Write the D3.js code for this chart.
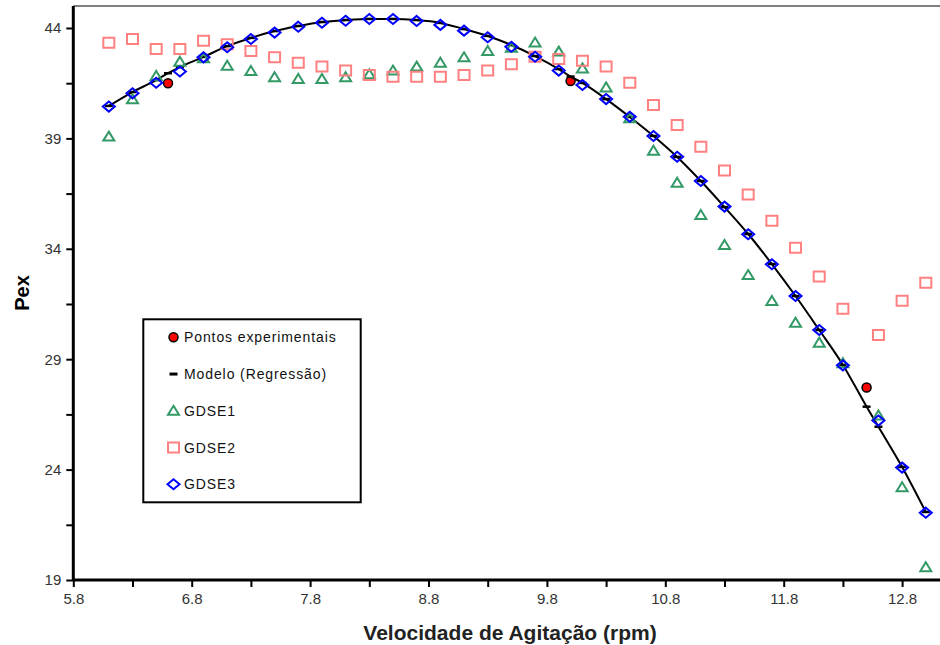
<!DOCTYPE html>
<html>
<head>
<meta charset="utf-8">
<script src="https://cdn.jsdelivr.net/npm/d3@7"></script>
<style>
  html, body { margin: 0; padding: 0; background: #fff; }
  svg { display: block; font-family: "Liberation Sans", Arial, sans-serif; }
</style>
</head>
<body>
<svg id="chart" width="940" height="645"></svg>
<script>
// Agitation speed (rpm) at which the three GDSE estimates were computed
const speeds = [6.1, 6.3, 6.5, 6.7, 6.9, 7.1, 7.3, 7.5, 7.7, 7.9, 8.1, 8.3, 8.5, 8.7, 8.9,
  9.1, 9.3, 9.5, 9.7, 9.9, 10.1, 10.3, 10.5, 10.7, 10.9, 11.1, 11.3, 11.5, 11.7, 11.9,
  12.1, 12.3, 12.6, 12.8, 13.0];

const gdse1 = [39.08, 40.77, 41.83, 42.47, 42.63, 42.29, 42.05, 41.77, 41.69, 41.69, 41.77,
  41.90, 42.07, 42.25, 42.43, 42.67, 42.96, 43.10, 43.34, 42.93, 42.17, 41.31, 39.91, 38.44,
  36.99, 35.53, 34.17, 32.81, 31.64, 30.65, 29.75, 28.82, 26.45, 23.20, 19.58];

const gdse2 = [43.33, 43.50, 43.05, 43.05, 43.42, 43.26, 42.96, 42.67, 42.43, 42.25, 42.07,
  41.87, 41.79, 41.79, 41.79, 41.87, 42.07, 42.36, 42.70, 42.60, 42.52, 42.25, 41.52, 40.51,
  39.61, 38.62, 37.54, 36.46, 35.27, 34.05, 32.74, 31.28, 30.10, 31.65, 32.46];

const gdse3 = [40.44, 41.04, 41.52, 42.03, 42.67, 43.13, 43.50, 43.79, 44.06, 44.24, 44.33,
  44.41, 44.41, 44.32, 44.14, 43.88, 43.58, 43.15, 42.70, 42.07, 41.42, 40.78, 39.98, 39.11,
  38.17, 37.07, 35.91, 34.66, 33.30, 31.86, 30.32, 28.72, 26.22, 24.09, 22.05];

// Regression model
const modelX = [6.1, 6.3, 6.5, 6.6, 6.7, 6.9, 7.1, 7.3, 7.5, 7.7, 7.9, 8.1, 8.3, 8.5, 8.7, 8.9,
  9.1, 9.3, 9.5, 9.7, 9.9, 10.0, 10.1, 10.3, 10.5, 10.7, 10.9, 11.1, 11.3, 11.5, 11.7, 11.9,
  12.1, 12.3, 12.5, 12.6, 12.8, 13.0];
const modelY = [40.47, 41.10, 41.64, 41.95, 42.23, 42.69, 43.18, 43.55, 43.86, 44.09, 44.27,
  44.36, 44.41, 44.41, 44.36, 44.23, 43.95, 43.64, 43.23, 42.73, 42.14, 41.80, 41.51, 40.78,
  39.97, 39.11, 38.16, 37.07, 35.89, 34.67, 33.31, 31.86, 30.32, 28.74, 26.85, 25.94, 24.12,
  22.08];

// Experimental points
const expX = [6.6, 10.0, 12.5];
const expY = [41.50, 41.60, 27.72];

const xTicks = [5.8, 6.8, 7.8, 8.8, 9.8, 10.8, 11.8, 12.8];
const yTicks = [19, 24, 29, 34, 39, 44];

const legendLabels = ["Pontos experimentais", "Modelo (Regressão)", "GDSE1", "GDSE2", "GDSE3"];

const colors = { exp: "#ff0000", model: "#000000", g1: "#339966", g2: "#ff8080", g3: "#0000ff" };

const svg = d3.select("#chart");

const x = d3.scaleLinear().domain([5.8, 13.12]).range([73.3, 940]);
const y = d3.scaleLinear().domain([19, 45]).range([580, 5.9]);

// plot top border
svg.append("line")
  .attr("x1", x(5.8)).attr("x2", 940)
  .attr("y1", y(45)).attr("y2", y(45))
  .attr("stroke", "#808080").attr("stroke-width", 2);

// axes
const yAxis = d3.axisLeft(y)
  .tickValues(d3.range(19, 45, 2.5))
  .tickSize(7)
  .tickFormat(d => yTicks.includes(d) ? d3.format("d")(d) : "");
const gy = svg.append("g").attr("transform", `translate(${x(5.8)},0)`).call(yAxis);

const xAxis = d3.axisBottom(x)
  .tickValues(d3.range(5.8, 13.05, 0.5).map(v => +v.toFixed(1)))
  .tickSize(7)
  .tickFormat(d => xTicks.some(t => Math.abs(t - d) < 1e-6) ? d3.format(".1f")(d) : "");
const gx = svg.append("g").attr("transform", `translate(0,${y(19)})`).call(xAxis);

[gx, gy].forEach(g => {
  g.select(".domain").attr("stroke", "#000").attr("stroke-width", 3);
  g.selectAll(".tick line").attr("stroke", "#000").attr("stroke-width", 2);
  g.selectAll(".tick text").attr("fill", "#333").attr("font-size", 15)
    .attr("font-family", "'Liberation Sans', Arial, sans-serif");
});
gy.select(".domain").attr("d", `M0,${y(19)}V${y(45)}`);
gx.select(".domain").attr("d", `M${x(5.8)},0H940`);
gy.selectAll(".tick text").attr("x", -12);
gx.selectAll(".tick text").attr("y", 13);

// axis titles
svg.append("text")
  .attr("x", 510).attr("y", 640)
  .attr("text-anchor", "middle")
  .attr("font-weight", "bold").attr("font-size", 21).attr("fill", "#222")
  .text("Velocidade de Agitação (rpm)");

svg.append("text")
  .attr("transform", `translate(29,${y(32)}) rotate(-90)`)
  .attr("text-anchor", "middle")
  .attr("font-weight", "bold").attr("font-size", 20).attr("fill", "#000")
  .text("Pex");

// marker shapes
const triPath = "M0,-5 L5.5,4 L-5.5,4 Z";
const sqPath = "M-5.5,-5 H5.5 V5 H-5.5 Z";
const diaPath = "M0,-5 L6,0 L0,5 L-6,0 Z";
const dashPath = "M-4,0 H4";

const plot = svg.append("g");

// experimental points
plot.selectAll(".exp").data(expX.map((v, i) => [v, expY[i]])).join("circle")
  .attr("cx", d => x(d[0])).attr("cy", d => y(d[1]))
  .attr("r", 4.5).attr("fill", colors.exp).attr("stroke", "#000").attr("stroke-width", 1.5);

// regression model line with dash markers
const modelPts = modelX.map((v, i) => [v, modelY[i]]);
plot.append("path").datum(modelPts)
  .attr("d", d3.line().x(d => x(d[0])).y(d => y(d[1])).curve(d3.curveMonotoneX))
  .attr("fill", "none").attr("stroke", colors.model).attr("stroke-width", 2);
plot.selectAll(".mdl").data(modelPts).join("path")
  .attr("transform", d => `translate(${x(d[0])},${y(d[1])})`)
  .attr("d", dashPath).attr("stroke", "#000").attr("stroke-width", 2.5);

function drawSeries(values, shape, color) {
  plot.append("g").selectAll("path").data(speeds.map((v, i) => [v, values[i]])).join("path")
    .attr("transform", d => `translate(${x(d[0])},${y(d[1])})`)
    .attr("d", shape).attr("fill", "none").attr("stroke", color).attr("stroke-width", 2);
}
drawSeries(gdse1, triPath, colors.g1);
drawSeries(gdse2, sqPath, colors.g2);
drawSeries(gdse3, diaPath, colors.g3);

// legend
const lg = svg.append("g");
lg.append("rect")
  .attr("x", 143.3).attr("y", 319.3).attr("width", 217.4).attr("height", 183)
  .attr("fill", "#fff").attr("stroke", "#000").attr("stroke-width", 2);

const rowY = d3.range(5).map(i => 337.3 + i * 36.75);
const lmx = 173.5;
lg.append("circle").attr("cx", lmx).attr("cy", rowY[0]).attr("r", 4.5)
  .attr("fill", colors.exp).attr("stroke", "#000").attr("stroke-width", 1.5);
lg.append("path").attr("transform", `translate(${lmx},${rowY[1]})`).attr("d", dashPath)
  .attr("stroke", "#000").attr("stroke-width", 3);
lg.append("path").attr("transform", `translate(${lmx},${rowY[2]})`).attr("d", triPath)
  .attr("fill", "none").attr("stroke", colors.g1).attr("stroke-width", 2);
lg.append("path").attr("transform", `translate(${lmx},${rowY[3]})`).attr("d", sqPath)
  .attr("fill", "none").attr("stroke", colors.g2).attr("stroke-width", 2);
lg.append("path").attr("transform", `translate(${lmx},${rowY[4]})`).attr("d", diaPath)
  .attr("fill", "none").attr("stroke", colors.g3).attr("stroke-width", 2);

lg.selectAll(".lt").data(legendLabels).join("text")
  .attr("x", 184).attr("y", (d, i) => rowY[i] + 5)
  .attr("font-size", 14).attr("letter-spacing", 0.9).attr("fill", "#111")
  .text(d => d);
</script>
</body>
</html>
